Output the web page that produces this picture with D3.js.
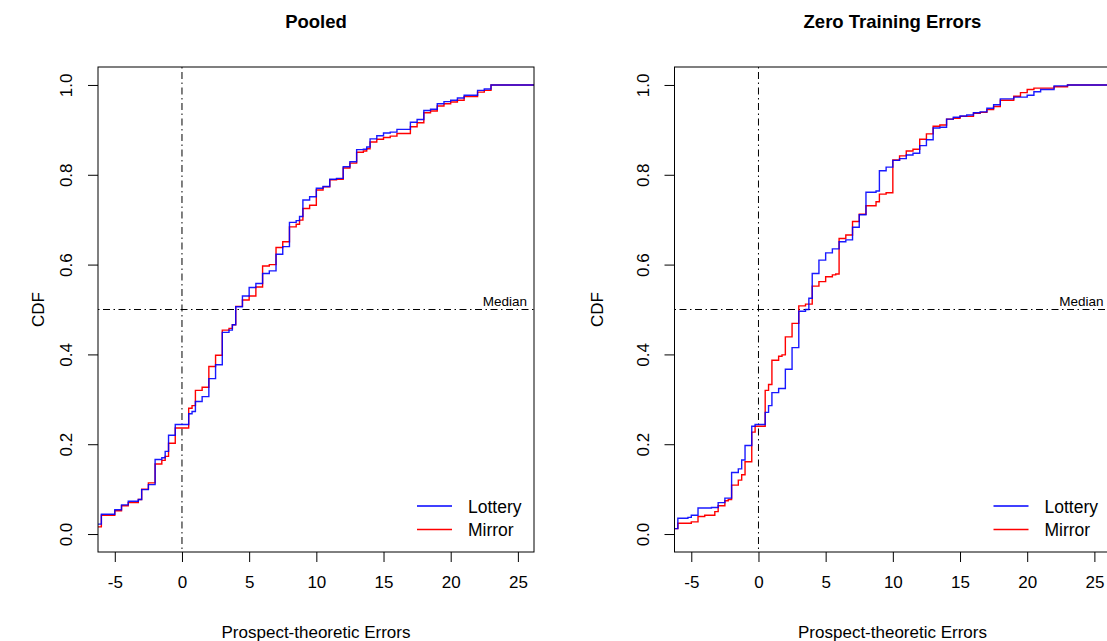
<!DOCTYPE html>
<html lang="en">
<head>
  <meta charset="UTF-8">
  <title>CDF of prospect-theoretic errors</title>
  <style>
    body { margin: 0; background: #fff; }
    svg { display: block; font-family: "Liberation Sans", Arial, Helvetica, sans-serif; }
  </style>
</head>
<body>
  <svg class="chart"></svg>
  <script src="https://cdn.jsdelivr.net/npm/d3@7/dist/d3.min.js"></script>
  <script>
    // step locations (error values) and the CDF after each step
    var pooledX = [-7, -6, -5, -4.5, -4, -3.25, -3, -2.5, -2, -1.5, -1.25, -1, -0.5, 0.5, 0.75,
      1, 1.5, 2, 2.5, 3, 3.5, 3.75, 4, 4.5, 5, 5.5, 6, 6.5, 7, 7.5, 8, 8.5, 8.75, 9, 9.5,
      10, 10.5, 11, 11.5, 12, 12.5, 13, 13.5, 13.75, 14, 14.5, 15, 15.5, 16, 17, 17.5,
      18, 18.5, 19, 19.5, 20, 20.5, 21, 22, 22.5, 23];
    var pooledLottery = [0.022, 0.044, 0.054, 0.065, 0.073, 0.077, 0.099, 0.11, 0.166, 0.17, 0.184, 0.22, 0.244, 0.268, 0.273,
      0.295, 0.306, 0.346, 0.377, 0.449, 0.454, 0.466, 0.506, 0.53, 0.549, 0.558, 0.58, 0.586, 0.623, 0.64, 0.694, 0.698, 0.707, 0.744, 0.751,
      0.77, 0.774, 0.79, 0.792, 0.818, 0.829, 0.856, 0.857, 0.862, 0.88, 0.887, 0.893, 0.895, 0.901, 0.917, 0.923,
      0.943, 0.946, 0.958, 0.963, 0.966, 0.971, 0.977, 0.988, 0.991, 1.0];
    var pooledMirror = [0.016, 0.042, 0.052, 0.063, 0.07, 0.077, 0.1, 0.114, 0.156, 0.164, 0.173, 0.202, 0.236, 0.28, 0.286,
      0.32, 0.327, 0.373, 0.398, 0.454, 0.458, 0.466, 0.507, 0.521, 0.53, 0.55, 0.597, 0.6, 0.638, 0.651, 0.684, 0.69, 0.699, 0.725, 0.732,
      0.766, 0.773, 0.789, 0.79, 0.815, 0.826, 0.85, 0.853, 0.858, 0.873, 0.879, 0.883, 0.886, 0.892, 0.907, 0.916,
      0.938, 0.942, 0.953, 0.958, 0.962, 0.966, 0.974, 0.984, 0.988, 1.0];

    var zeroX = [-7, -6, -5.25, -5, -4.5, -4, -3.5, -3.25, -3, -2.5, -2.25, -2, -1.5, -1.25, -1,
      -0.5, -0.25, 0.5, 0.75, 1, 1.5, 1.75, 2, 2.5, 3, 3.5, 3.75, 4, 4.5, 5,
      5.5, 5.75, 6, 6.5, 7, 7.5, 8, 8.75, 9, 9.5, 10, 10.5, 11, 11.5, 12,
      12.5, 13, 13.5, 14, 14.5, 15, 15.5, 16, 16.5, 17, 17.5, 18, 19, 19.5, 20,
      20.5, 21, 22, 23];
    var zeroLottery = [0.012, 0.035, 0.037, 0.042, 0.058, 0.058, 0.059, 0.059, 0.07, 0.08, 0.08, 0.137, 0.145, 0.165, 0.197,
      0.24, 0.244, 0.271, 0.286, 0.315, 0.324, 0.324, 0.367, 0.415, 0.496, 0.5, 0.525, 0.58, 0.61, 0.626,
      0.635, 0.635, 0.651, 0.655, 0.683, 0.711, 0.761, 0.764, 0.809, 0.817, 0.832, 0.836, 0.844, 0.848, 0.865,
      0.878, 0.904, 0.906, 0.924, 0.928, 0.931, 0.933, 0.938, 0.94, 0.948, 0.956, 0.969, 0.973, 0.973, 0.977,
      0.985, 0.99, 0.998, 1.0];
    var zeroMirror = [0.012, 0.024, 0.024, 0.027, 0.039, 0.042, 0.042, 0.05, 0.063, 0.074, 0.077, 0.109, 0.12, 0.132, 0.161,
      0.227, 0.24, 0.32, 0.333, 0.387, 0.396, 0.399, 0.439, 0.469, 0.508, 0.512, 0.512, 0.552, 0.562, 0.573,
      0.577, 0.579, 0.658, 0.666, 0.696, 0.712, 0.731, 0.74, 0.757, 0.76, 0.833, 0.842, 0.853, 0.857, 0.879,
      0.891, 0.908, 0.911, 0.924, 0.926, 0.93, 0.93, 0.937, 0.939, 0.945, 0.952, 0.966, 0.975, 0.983, 0.99,
      0.993, 0.993, 0.996, 1.0];

    var xTicks = [-5, 0, 5, 10, 15, 20, 25];
    var yTicks = [0, 0.2, 0.4, 0.6, 0.8, 1.0];
    var seriesNames = ["Lottery", "Mirror"];
    var seriesColors = ["#0000ff", "#ff0000"];

    var svgWidth = 1107, svgHeight = 641;
    var plotW = 436, plotH = 485, plotTop = 67;
    var dotdash = "1.5,3.5,7,3.5";

    var svg = d3.select("svg")
      .attr("width", svgWidth)
      .attr("height", svgHeight);

    var xScale = d3.scaleLinear().domain([-6.25, 26.2]).range([0, plotW]);
    var yScale = d3.scaleLinear().domain([-0.04, 1.04]).range([plotH, 0]);

    function stepPoints(xs, ps) {
      // pad with the flat tails an ecdf plot draws outside the data
      var pts = [[-50, 0]];
      xs.forEach(function (x, i) { pts.push([x, ps[i]]); });
      pts.push([50, 1]);
      return pts;
    }

    var line = d3.line()
      .x(d => xScale(d[0]))
      .y(d => yScale(d[1]))
      .curve(d3.curveStepAfter);

    function drawPanel(left, ylabX, id, title, xs, lottery, mirror) {
      var g = svg.append("g").attr("transform", `translate(${left}, ${plotTop})`);

      g.append("clipPath").attr("id", id)
        .append("rect").attr("width", plotW).attr("height", plotH);

      var inner = g.append("g").attr("clip-path", `url(#${id})`);

      // reference lines: x = 0 and median
      inner.append("line")
        .attr("x1", xScale(0)).attr("x2", xScale(0))
        .attr("y1", 0).attr("y2", plotH)
        .attr("stroke", "#000").attr("stroke-dasharray", dotdash);
      inner.append("line")
        .attr("x1", 0).attr("x2", plotW)
        .attr("y1", yScale(0.5)).attr("y2", yScale(0.5))
        .attr("stroke", "#000").attr("stroke-dasharray", dotdash);

      inner.append("path")
        .attr("d", line(stepPoints(xs, mirror)))
        .attr("fill", "none").attr("stroke", seriesColors[1]).attr("stroke-width", 1.4);
      inner.append("path")
        .attr("d", line(stepPoints(xs, lottery)))
        .attr("fill", "none").attr("stroke", seriesColors[0]).attr("stroke-width", 1.4)
        .attr("stroke-opacity", 0.9);

      inner.append("text")
        .attr("x", plotW - 7).attr("y", yScale(0.5) - 4)
        .attr("text-anchor", "end")
        .style("font-size", "13.5px")
        .text("Median");

      // box
      g.append("rect")
        .attr("width", plotW).attr("height", plotH)
        .attr("fill", "none").attr("stroke", "#000");

      var xAxis = d3.axisBottom(xScale).tickValues(xTicks).tickSize(10).tickPadding(14)
        .tickFormat(d => String(d));
      var gx = g.append("g")
        .attr("transform", `translate(0, ${plotH})`)
        .call(xAxis);
      gx.select(".domain").remove();
      gx.selectAll("text").style("font-size", "17px").attr("font-family", null);

      var yAxis = d3.axisLeft(yScale).tickValues(yTicks).tickSize(10).tickFormat(d => d.toFixed(1));
      var gy = g.append("g").call(yAxis);
      gy.select(".domain").remove();
      gy.selectAll("text")
        .attr("x", null).attr("dy", null)
        .attr("transform", "translate(-26, 0) rotate(-90)")
        .attr("text-anchor", "middle")
        .attr("font-family", null)
        .style("font-size", "17px");

      g.append("text")
        .attr("x", plotW / 2).attr("y", 28 - plotTop)
        .attr("text-anchor", "middle")
        .style("font-size", "18.5px").style("font-weight", "bold")
        .text(title);

      g.append("text")
        .attr("x", plotW / 2).attr("y", 638 - plotTop)
        .attr("text-anchor", "middle")
        .style("font-size", "17px")
        .text("Prospect-theoretic Errors");

      g.append("text")
        .attr("transform", `translate(${ylabX - left}, ${plotH / 2}) rotate(-90)`)
        .attr("text-anchor", "middle")
        .style("font-size", "17px")
        .text("CDF");

      // legend, bottom right, no frame
      var leg = g.selectAll(".legend")
        .data(seriesNames)
        .enter()
        .append("g")
        .attr("class", "legend")
        .attr("transform", (d, i) => `translate(${plotW - 117}, ${439 + i * 23.5})`);
      leg.append("line")
        .attr("x1", 0).attr("x2", 35)
        .attr("stroke", (d, i) => seriesColors[i]).attr("stroke-width", 1.4);
      leg.append("text")
        .attr("x", 51).attr("y", 6.5)
        .style("font-size", "17.5px")
        .text(d => d);
    }

    drawPanel(98, 44, "clipPooled", "Pooled", pooledX, pooledLottery, pooledMirror);
    drawPanel(674.5, 603, "clipZero", "Zero Training Errors", zeroX, zeroLottery, zeroMirror);
  </script>
</body>
</html>
